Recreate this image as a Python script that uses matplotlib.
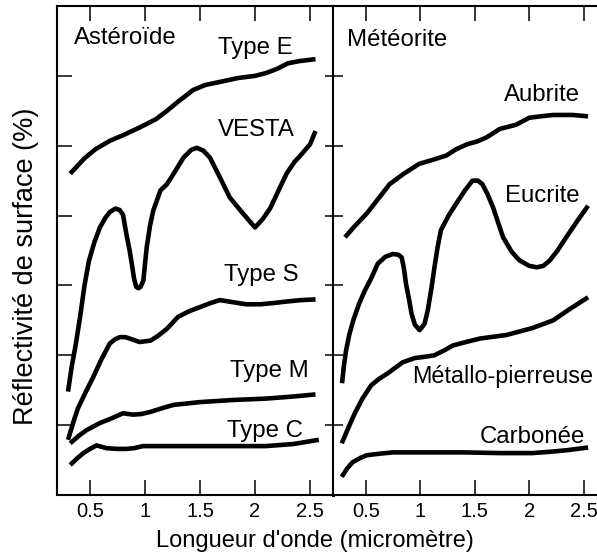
import numpy as np
import matplotlib
matplotlib.use("Agg")
import matplotlib.pyplot as plt

plt.rcParams['font.family'] = ['Liberation Sans', 'DejaVu Sans']

# Astéroïdes (longueur d'onde en micromètre, réflectivité en unités de graduation)
type_e_x = [0.32, 0.45, 0.55, 0.68, 0.80, 0.95, 1.10, 1.20, 1.30, 1.44, 1.55, 1.70, 1.85, 2.00, 2.10, 2.20, 2.30, 2.40, 2.55]
type_e_y = [4.60, 4.82, 4.95, 5.07, 5.15, 5.26, 5.38, 5.50, 5.63, 5.80, 5.87, 5.92, 5.97, 6.00, 6.04, 6.10, 6.18, 6.21, 6.24]

vesta_x = [0.30, 0.335, 0.37, 0.41, 0.45, 0.49, 0.54, 0.59, 0.64, 0.68, 0.73, 0.77, 0.80, 0.83, 0.86, 0.88, 0.90, 0.92, 0.94, 0.96, 0.985, 1.015, 1.045, 1.075, 1.14, 1.20, 1.28, 1.35, 1.42, 1.47, 1.53, 1.59, 1.68, 1.77, 1.88, 2.00, 2.07, 2.14, 2.22, 2.29, 2.36, 2.43, 2.50, 2.55]
vesta_y = [1.48, 1.85, 2.15, 2.55, 3.00, 3.35, 3.62, 3.83, 3.97, 4.05, 4.10, 4.08, 4.01, 3.74, 3.50, 3.31, 3.10, 2.98, 2.96, 2.98, 3.07, 3.54, 3.85, 4.07, 4.36, 4.45, 4.65, 4.83, 4.94, 4.97, 4.93, 4.83, 4.55, 4.26, 4.05, 3.83, 3.95, 4.11, 4.38, 4.61, 4.77, 4.89, 5.02, 5.21]

type_s_x = [0.30, 0.35, 0.39, 0.46, 0.53, 0.60, 0.68, 0.73, 0.77, 0.82, 0.86, 0.95, 1.05, 1.12, 1.20, 1.30, 1.40, 1.50, 1.60, 1.68, 1.80, 1.92, 2.05, 2.18, 2.29, 2.42, 2.55]
type_s_y = [0.79, 1.05, 1.24, 1.47, 1.69, 1.93, 2.17, 2.23, 2.26, 2.26, 2.24, 2.19, 2.21, 2.28, 2.38, 2.55, 2.63, 2.69, 2.75, 2.79, 2.76, 2.73, 2.73, 2.75, 2.77, 2.79, 2.80]

type_m_x = [0.32, 0.40, 0.47, 0.59, 0.70, 0.80, 0.89, 0.97, 1.05, 1.15, 1.26, 1.50, 1.80, 2.10, 2.35, 2.55]
type_m_y = [0.74, 0.85, 0.93, 1.03, 1.10, 1.17, 1.15, 1.16, 1.19, 1.24, 1.29, 1.33, 1.36, 1.38, 1.41, 1.44]

type_c_x = [0.32, 0.38, 0.44, 0.50, 0.56, 0.65, 0.75, 0.83, 0.90, 0.98, 1.20, 1.50, 1.80, 2.10, 2.35, 2.58]
type_c_y = [0.43, 0.52, 0.60, 0.66, 0.71, 0.67, 0.66, 0.66, 0.67, 0.70, 0.70, 0.70, 0.70, 0.70, 0.73, 0.79]

# Météorites
aubrite_x = [0.31, 0.40, 0.51, 0.62, 0.72, 0.85, 0.99, 1.12, 1.24, 1.33, 1.43, 1.52, 1.61, 1.73, 1.88, 2.00, 2.10, 2.22, 2.40, 2.54]
aubrite_y = [3.69, 3.85, 4.03, 4.25, 4.45, 4.60, 4.74, 4.80, 4.86, 4.95, 5.02, 5.06, 5.12, 5.24, 5.30, 5.40, 5.42, 5.44, 5.44, 5.42]

eucrite_x = [0.283, 0.30, 0.32, 0.35, 0.39, 0.44, 0.49, 0.55, 0.61, 0.68, 0.75, 0.80, 0.83, 0.85, 0.87, 0.90, 0.92, 0.95, 0.995, 1.04, 1.07, 1.10, 1.13, 1.16, 1.19, 1.26, 1.33, 1.41, 1.48, 1.53, 1.57, 1.62, 1.67, 1.76, 1.84, 1.91, 2.00, 2.07, 2.13, 2.19, 2.26, 2.34, 2.44, 2.54]
eucrite_y = [1.60, 1.85, 2.07, 2.30, 2.52, 2.74, 2.92, 3.10, 3.31, 3.41, 3.45, 3.44, 3.40, 3.25, 3.02, 2.78, 2.60, 2.44, 2.36, 2.45, 2.65, 2.93, 3.25, 3.55, 3.79, 4.00, 4.17, 4.36, 4.50, 4.50, 4.45, 4.30, 4.11, 3.69, 3.48, 3.36, 3.28, 3.26, 3.28, 3.36, 3.50, 3.69, 3.92, 4.14]

metallo_x = [0.28, 0.34, 0.40, 0.47, 0.55, 0.62, 0.70, 0.77, 0.84, 0.95, 1.05, 1.13, 1.22, 1.30, 1.42, 1.55, 1.79, 2.03, 2.22, 2.38, 2.54]
metallo_y = [0.74, 0.96, 1.17, 1.38, 1.57, 1.66, 1.74, 1.82, 1.90, 1.96, 1.98, 2.00, 2.07, 2.14, 2.19, 2.24, 2.29, 2.39, 2.50, 2.67, 2.83]

carbonee_x = [0.28, 0.33, 0.38, 0.45, 0.51, 0.62, 0.75, 0.90, 1.11, 1.40, 1.73, 2.03, 2.20, 2.34, 2.54]
carbonee_y = [0.26, 0.38, 0.47, 0.53, 0.57, 0.59, 0.61, 0.61, 0.61, 0.61, 0.60, 0.60, 0.62, 0.64, 0.68]

x_ticks = [0.5, 1, 1.5, 2, 2.5]
x_tick_labels = ["0.5", "1", "1.5", "2", "2.5"]
y_ticks = [1, 2, 3, 4, 5, 6]

W, H = 597, 559
fig = plt.figure(figsize=(W / 100, H / 100), dpi=100)

bot = (H - 495) / H
hgt = 489 / H
ax1 = fig.add_axes([57 / W, bot, 276 / W, hgt])
ax2 = fig.add_axes([333 / W, bot, 272.5 / W, hgt])

lw = 3.3
kw = dict(color='black', lw=lw, solid_joinstyle='round', solid_capstyle='butt')
ax1.plot(type_e_x, type_e_y, **kw)
ax1.plot(vesta_x, vesta_y, **kw)
ax1.plot(type_s_x, type_s_y, **kw)
ax1.plot(type_m_x, type_m_y, **kw)
ax1.plot(type_c_x, type_c_y, **kw)

ax2.plot(aubrite_x, aubrite_y, **kw)
ax2.plot(eucrite_x, eucrite_y, **kw)
ax2.plot(metallo_x, metallo_y, **kw)
ax2.plot(carbonee_x, carbonee_y, **kw)

ax1.set_xlim(0.2, 2.709)
ax2.set_xlim(0.2, 2.7)

for ax in (ax1, ax2):
    ax.set_ylim(0, 7)
    ax.set_xticks(x_ticks)
    ax.set_xticklabels(x_tick_labels)
    ax.set_yticks(y_ticks)
    ax.set_yticklabels([])
    ax.tick_params(direction='in', top=True, bottom=True, left=True, right=True,
                   length=11, width=1.1, labelsize=14.5, pad=5)
    for sp in ax.spines.values():
        sp.set_linewidth(1.5)

ax1.spines['right'].set_linewidth(2.2)
for t in ax1.yaxis.get_major_ticks():
    t.tick2line.set_markersize(6)
for t in ax2.yaxis.get_major_ticks():
    t.tick1line.set_markersize(7.5)
    t.tick2line.set_markersize(5)

fs = 17.3
ax1.text(0.355, 6.46, "Astéroïde", fontsize=fs)
ax1.text(1.66, 6.31, "Type E", fontsize=fs)
ax1.text(1.66, 5.14, "VESTA", fontsize=fs)
ax1.text(1.718, 3.07, "Type S", fontsize=fs)
ax1.text(1.77, 1.69, "Type M", fontsize=fs)
ax1.text(1.745, 0.83, "Type C", fontsize=fs)

ax2.text(0.326, 6.43, "Météorite", fontsize=fs)
ax2.text(1.766, 5.64, "Aubrite", fontsize=fs)
ax2.text(1.775, 4.19, "Eucrite", fontsize=fs)
ax2.text(0.93, 1.60, "Métallo-pierreuse", fontsize=16.8)
ax2.text(1.546, 0.74, "Carbonée", fontsize=fs)

fig.text(315 / W, (H - 547) / H, "Longueur d'onde (micromètre)", fontsize=17,
         ha='center', va='baseline')
fig.text(26 / W, (H - 266) / H, "Réflectivité de surface (%)", fontsize=19.5,
         rotation=90, ha='center', va='center')

fig.savefig("out.png", dpi=100)
plt.close(fig)
